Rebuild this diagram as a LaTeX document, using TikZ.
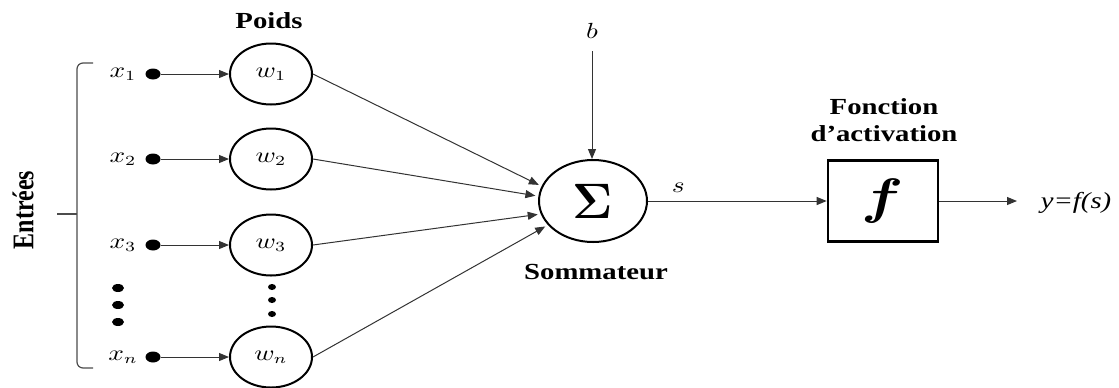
\documentclass[tikz,border=0pt]{standalone}
\usepackage{fontspec}
\setmainfont{Liberation Serif}
\usepackage{graphicx}
\usetikzlibrary{arrows.meta,positioning,calc,shapes.geometric}
\newcommand{\widen}[1]{\scalebox{1.25}[1]{#1}}
\tikzset{
  wgt/.style={draw, line width=1pt, ellipse, minimum width=41pt, minimum height=30.5pt,
              inner sep=0pt, font=\fontsize{10.5}{12}\selectfont},
  sm/.style={draw, line width=1pt, ellipse, minimum width=54pt, minimum height=41pt,
             inner sep=0pt, font=\fontsize{30}{34}\selectfont\boldmath},
  act/.style={draw, line width=1.3pt, rectangle, minimum width=55pt, minimum height=40.5pt,
              inner sep=0pt, font=\fontsize{31}{34}\selectfont\boldmath},
  inp/.style={fill, ellipse, minimum width=7.5pt, minimum height=5.5pt, inner sep=0pt},
  lbl/.style={font=\fontsize{11.5}{13.5}\selectfont\bfseries, inner sep=1pt},
  var/.style={font=\fontsize{10.5}{12}\selectfont, inner sep=1pt},
  ar/.style={-{Triangle[length=5pt,width=4pt]}, draw=black!80, line width=0.5pt},
}

\begin{document}
\begin{tikzpicture}[x=0.5pt, y=-0.5pt]
\useasboundingbox (0,0) rectangle (1119,387);

% inputs and weights
\foreach \i/\yy in {1/74, 2/159, 3/245, n/357} {
  \node[var] (x\i) at (123,\yy) {\widen{$x_{\i}$}};
  \node[inp] (d\i) at (153,\yy) {};
  \node[wgt] (w\i) at (271,\yy) {\widen{$w_{\i}$}};
  \draw[ar] (d\i) -- (w\i);
}
\foreach \yy in {288,305,322}
  \node[inp, minimum width=6pt, minimum height=4pt] (ld\yy) at (118,\yy) {};
\foreach \yy in {287,300,314}
  \node[inp, minimum width=4pt, minimum height=3pt] (wd\yy) at (272,\yy) {};

% brace
\draw[line width=0.6pt, black!70, rounded corners=3pt] (93,63) -- (77,63) -- (77,368) -- (93,368);
\draw[line width=0.6pt, black!70] (77,214) -- (57,214);
\node[lbl, font=\fontsize{12}{14}\selectfont\bfseries, rotate=90] (ent) at (23,210)
  {\scalebox{1}[1.25]{Entrées}};
\node[lbl] (poids) at (269,21) {\widen{Poids}};

% summation
\node[sm] (sum) at (593,201) {$\Sigma$};
\node[lbl] (somm) at (596,272) {\widen{Sommateur}};
\node[var, inner sep=6pt] (b) at (592,31) {\widen{$b$}};
\draw[ar] (b) -- (b |- sum.north);

\draw[ar, shorten >=1.5pt] (w1.east) -- (sum.164);
\draw[ar, shorten >=1.5pt] (w2.east) -- (sum.175);
\draw[ar, shorten >=1.5pt] (w3.east) -- (sum.194);
\draw[ar, shorten >=1.5pt] (wn.east) -- (sum.208);

% activation
\node[act] (fbox) at (883,201) {\widen{$f$}};
\node[lbl] (fct) at (884,123)
  {\widen{\begin{tabular}{@{}c@{}}Fonction\\d’activation\end{tabular}}};
\draw[ar] (sum.east) -- node[var, above=3pt, pos=0.17] (s) {\widen{$s$}} (fbox.west);

\coordinate (out) at (1017,201);
\draw[ar] (fbox) -- (out);
\node[font=\fontsize{11.5}{13.5}\selectfont\itshape] (yout) at (1076,203) {\widen{y=f(s)}};
\end{tikzpicture}
\end{document}
